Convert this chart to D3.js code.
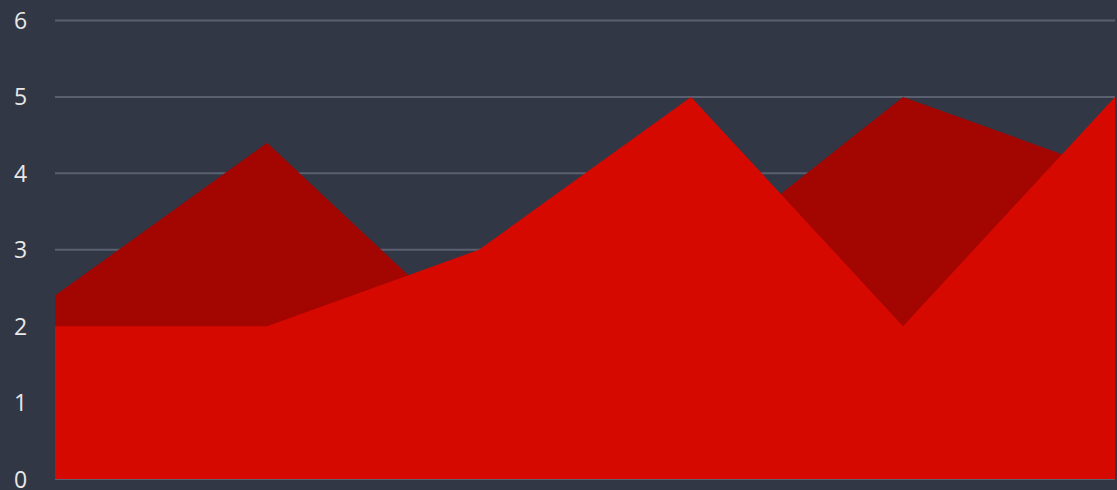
<!DOCTYPE html>
<html>
<head>
<meta charset="utf-8">
<script src="https://cdn.jsdelivr.net/npm/d3@7"></script>
<style>
  html, body { margin: 0; padding: 0; background: #323746; }
  #grafica { width: 1117px; height: 490px; }
  .y.axis text { font-family: "Open Sans", sans-serif; font-size: 23px; fill: #e8e8e8; }
</style>
</head>
<body>
<div id="grafica"></div>
<script>
// datos de la grafica
const categorias = ["A", "B", "C", "D", "E", "F"];
const serieAtras = [2.4, 4.4, 1.8, 2.8, 5, 4.0];
const serieFrente = [2, 2, 3, 5, 2, 5];
const ticksY = [0, 1, 2, 3, 4, 5, 6];

const width = 1117;
const height = 490;
const margin = { top: 20, right: 2, bottom: 11, left: 55 };

const svg = d3.select("#grafica").append("svg")
  .attr("width", width)
  .attr("height", height);

svg.append("rect")
  .attr("width", width)
  .attr("height", height)
  .attr("fill", "#323746");

const xScale = d3.scalePoint()
  .domain(categorias)
  .range([margin.left, width - margin.right]);

const yScale = d3.scaleLinear()
  .domain([0, 6])
  .range([height - margin.bottom, margin.top + 0.5]);

// lineas de la cuadricula
svg.append("g")
  .selectAll("line")
  .data(ticksY).enter()
  .append("line")
  .attr("x1", margin.left)
  .attr("x2", width - margin.right)
  .attr("y1", d => yScale(d))
  .attr("y2", d => yScale(d))
  .attr("stroke", "#5b6070")
  .attr("stroke-width", 2);

const area = d3.area()
  .x((d, i) => xScale(categorias[i]))
  .y0(yScale(0))
  .y1(d => yScale(d));

svg.append("path")
  .attr("d", area(serieAtras))
  .attr("fill", "#a30500");

svg.append("path")
  .attr("d", area(serieFrente))
  .attr("fill", "#d60900");

// eje Y
const yAxis = d3.axisLeft(yScale)
  .tickValues(ticksY)
  .tickFormat(d3.format("d"))
  .tickSize(0)
  .tickPadding(0);

svg.append("g")
  .attr("class", "y axis")
  .attr("transform", "translate(14,0)")
  .call(yAxis)
  .call(g => g.select(".domain").remove())
  .selectAll("text")
  .attr("text-anchor", "start")
  .attr("dy", "0.35em");
</script>
</body>
</html>
